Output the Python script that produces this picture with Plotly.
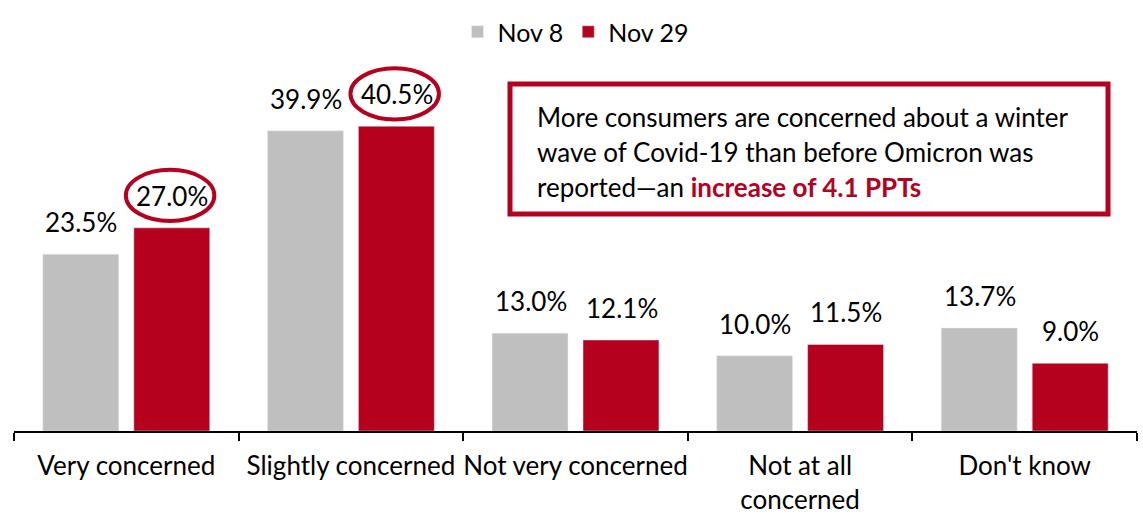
import plotly.graph_objects as go

categories = ["Very concerned", "Slightly concerned", "Not very concerned",
              "Not at all<br>concerned", "Don't know"]
nov8 = [23.5, 39.9, 13.0, 10.0, 13.7]
nov29 = [27.0, 40.5, 12.1, 11.5, 9.0]
series_names = ["Nov 8", "Nov 29"]
box_lines = [
    "More consumers are concerned about a winter",
    "wave of Covid-19 than before Omicron was",
    "reported\u2014an <b><span style='color:#B5001E'>increase of 4.1 PPTs</span></b>",
]
highlight = [(0, 1), (1, 1)]  # (category index, series index) circled

GRAY = "#BFBFBF"
RED = "#B5001E"
FONT = "Lato"
W, Hh = 1143, 518
L, R, T, B = 14, 6, 60, 87
PW = W - L - R
PH = Hh - T - B
YMAX = 49.3

def px_x(p):
    return (p - L) / PW

def px_y(p):
    return (Hh - B - p) / PH

fig = go.Figure()
fig.add_trace(go.Bar(x=categories, y=nov8, name=series_names[0], marker_color=GRAY))
fig.add_trace(go.Bar(x=categories, y=nov29, name=series_names[1], marker_color=RED))

offs = [-0.2, 0.205]
anns = []
for s, vals in enumerate([nov8, nov29]):
    for i, v in enumerate(vals):
        anns.append(dict(x=i + offs[s], y=v, xref="x", yref="y", text=f"{v:.1f}%",
                         showarrow=False, yanchor="bottom", yshift=14,
                         font=dict(family=FONT, size=26, color="black")))

shapes = []
for (i, s) in highlight:
    v = [nov8, nov29][s][i]
    cx = i + offs[s] - 0.01
    shapes.append(dict(type="circle", xref="x", yref="y",
                       x0=cx - 0.197, x1=cx + 0.197,
                       y0=v + 0.9, y1=v + 7.7,
                       line=dict(color=RED, width=4)))

# annotation box
shapes.append(dict(type="rect", xref="paper", yref="paper",
                   x0=px_x(510), x1=px_x(1108), y0=px_y(214), y1=px_y(84),
                   line=dict(color=RED, width=5), fillcolor="white"))
for k, line in enumerate(box_lines):
    anns.append(dict(x=px_x(535), y=px_y(117 + 35 * k), xref="paper", yref="paper",
                     text=line, showarrow=False, xanchor="left", yanchor="middle",
                     align="left", font=dict(family=FONT, size=26, color="black")))

fig.update_layout(
    width=W, height=Hh,
    margin=dict(l=L, r=R, t=T, b=B, autoexpand=False),
    paper_bgcolor="white", plot_bgcolor="white",
    barmode="group", bargap=0.19, bargroupgap=0.165,
    font=dict(family=FONT, size=24, color="black"),
    legend=dict(orientation="h", x=0.5, xanchor="center", y=px_y(32), yanchor="middle",
                font=dict(family=FONT, size=25), itemwidth=30),
    annotations=anns, shapes=shapes,
    showlegend=True,
)
fig.update_xaxes(type="category", range=[-0.5, len(categories) - 0.5],
                 automargin=False, tickangle=0,
                 showline=True, linecolor="black", linewidth=2,
                 ticks="outside", tickson="boundaries", ticklen=8, tickwidth=2,
                 tickcolor="black", ticklabelstandoff=11,
                 showgrid=False, zeroline=False,
                 tickfont=dict(family=FONT, size=26, color="black"))
fig.update_yaxes(range=[0, YMAX], visible=False, showgrid=False, zeroline=False,
                 automargin=False)

fig.write_html("out.html", config={"displayModeBar": False},
               post_script="document.body.style.margin='0';document.body.style.overflow='hidden';")
